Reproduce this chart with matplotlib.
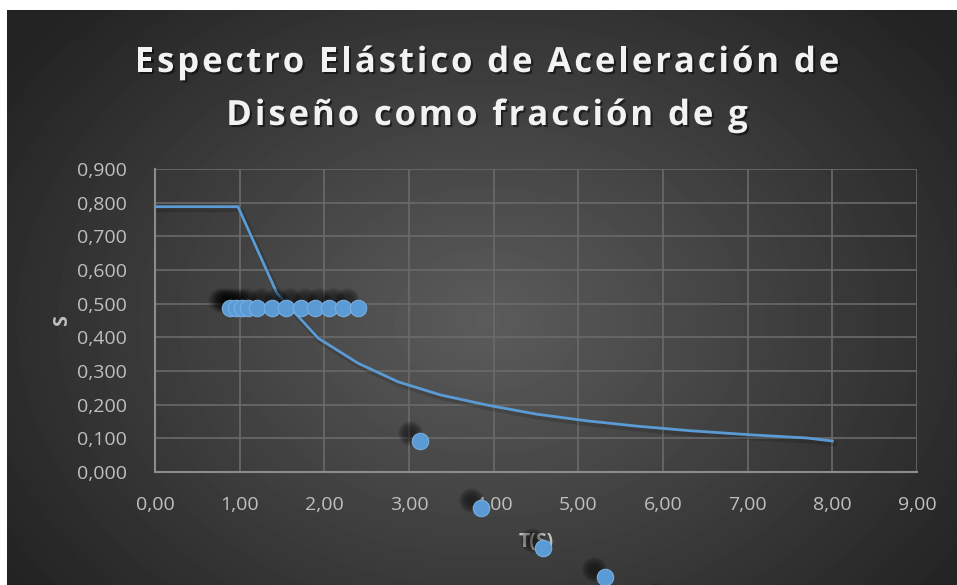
import numpy as np
import matplotlib.pyplot as plt
import matplotlib.patheffects as pe
from matplotlib.transforms import offset_copy
from matplotlib.ticker import FuncFormatter, MultipleLocator

# espectro elastico (T en s, Sa en g)
t_espectro = [0.00, 0.98, 1.44, 1.93, 2.40, 2.87, 3.37, 3.92, 4.50, 5.10, 5.70, 6.30, 7.00, 7.70, 8.00]
sa_espectro = [0.788, 0.788, 0.531, 0.397, 0.323, 0.268, 0.229, 0.199, 0.172, 0.152,
               0.136, 0.123, 0.111, 0.101, 0.092]

# serie de puntos
t_puntos = [0.886, 0.953, 1.024, 1.102, 1.200, 1.378, 1.547, 1.720, 1.890, 2.060,
            2.225, 2.395, 3.13, 3.85, 4.58, 5.31, 6.04]
s_puntos = [0.486, 0.486, 0.486, 0.486, 0.486, 0.486, 0.486, 0.486, 0.486, 0.486,
            0.486, 0.486, 0.092, -0.107, -0.226, -0.312, -0.390]

titulo = ['Espectro Elástico de Aceleración de', 'Diseño como fracción de g']

azul = '#5b9bd5'
gris_txt = '#bfbfbf'
W, H = 957, 585

fig = plt.figure(figsize=(W / 100, H / 100), dpi=100)
fig.patch.set_facecolor('white')

# fondo con degradado radial
bg = fig.add_axes([7 / W, 0, 1 - 7 / W, 1 - 10 / H])
bg.set_axis_off()
yy, xx = np.mgrid[0:H - 10, 0:W - 7]
cx, cy = 480, 310
r = np.sqrt(((xx - cx) / 600.0) ** 2 + ((yy - cy) / 460.0) ** 2)
val = np.clip(0.36 - 0.23 * r, 0.14, 0.36)
bg.imshow(val, cmap='gray', vmin=0, vmax=1, aspect='auto', interpolation='bilinear')

ax = fig.add_axes([155 / W, (H - 472) / H, 762 / W, 303 / H])
ax.set_facecolor('none')
ax.set_xlim(0, 9)
ax.set_ylim(0, 0.9)
ax.xaxis.set_major_locator(MultipleLocator(1))
ax.yaxis.set_major_locator(MultipleLocator(0.1))
ax.xaxis.set_major_formatter(FuncFormatter(lambda v, p: f'{v:.2f}'.replace('.', ',')))
ax.yaxis.set_major_formatter(FuncFormatter(lambda v, p: f'{v:.3f}'.replace('.', ',')))
ax.grid(True, color='#6a6a6a', linewidth=1.2)
ax.set_axisbelow(True)
for s in ['top', 'right']:
    ax.spines[s].set_visible(False)
for s in ['left', 'bottom']:
    ax.spines[s].set_color('#8c8c8c')
    ax.spines[s].set_linewidth(1.5)
ax.tick_params(length=0, colors=gris_txt, labelsize=14, pad=17)
ax.tick_params(axis='y', pad=20)
for lab in ax.get_xticklabels() + ax.get_yticklabels():
    lab.set_fontfamily('Open Sans')

ax.set_xlabel('T(S)', fontsize=14, fontweight='bold', color=gris_txt,
              fontfamily='Open Sans', labelpad=13)
ax.set_ylabel('S', fontsize=14, fontweight='bold', color=gris_txt,
              fontfamily='Open Sans', labelpad=4)

# sombra de la linea
sombra_l = offset_copy(ax.transData, fig, x=1.5, y=-2.0, units='points')
ax.plot(t_espectro, sa_espectro, color='black', alpha=0.15, linewidth=4, transform=sombra_l)
ax.plot(t_espectro, sa_espectro, color=azul, linewidth=2, zorder=3)

# sombras difusas de los marcadores
sombra_m = offset_copy(ax.transData, fig, x=-7.5, y=6.0, units='points')
for tam in np.linspace(320, 30, 10):
    ax.scatter(t_puntos, s_puntos, s=tam, color='black', alpha=0.06, linewidths=0,
               transform=sombra_m, clip_on=False, zorder=4)
ax.scatter(t_puntos, s_puntos, s=140, color=azul, edgecolors='#78aee0', linewidths=0.8,
           clip_on=False, zorder=5)

# titulo con espaciado entre letras
fig.canvas.draw()
ren = fig.canvas.get_renderer()
estilo = dict(fontsize=25, fontweight='bold', color='#f2f2f2', fontfamily='Open Sans',
              va='baseline', ha='left',
              path_effects=[pe.withSimplePatchShadow(offset=(1.5, -1.5),
                                                     shadow_rgbFace='black', alpha=0.5)])
tracking = 2.9
for linea, base in zip(titulo, [72, 125]):
    anchos = []
    for ch in linea:
        t = fig.text(0, 0, ch.replace(' ', '\u00a0'), **estilo)
        anchos.append(t.get_window_extent(ren).width)
        t.remove()
    total = sum(anchos) + tracking * (len(linea) - 1)
    x = 487 - total / 2
    for ch, w in zip(linea, anchos):
        if ch != ' ':
            fig.text(x / W, 1 - base / H, ch, **estilo)
        x += w + tracking

fig.savefig('out.png', dpi=100, facecolor=fig.get_facecolor())
